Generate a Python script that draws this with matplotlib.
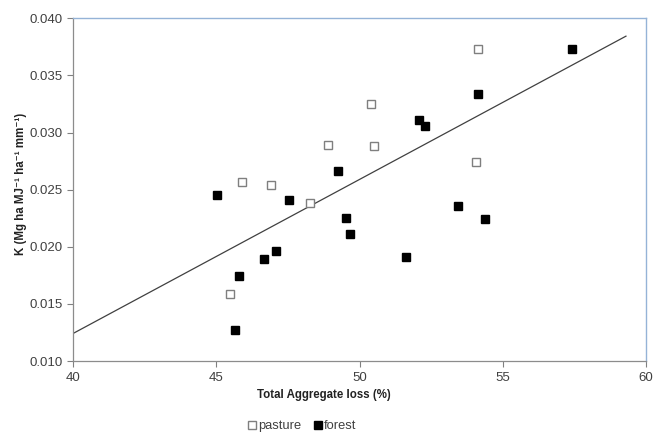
import numpy as np
import matplotlib
matplotlib.use("Agg")
import matplotlib.pyplot as plt

plt.rcParams['font.family'] = ['Liberation Sans', 'DejaVu Sans']

# pasture sites: total aggregate loss (%) vs K
pasture_x = [45.46, 45.88, 46.89, 48.27, 48.90, 50.38, 50.49, 54.05, 54.15]
pasture_k = [0.01583, 0.02567, 0.02540, 0.02380, 0.02891, 0.03250, 0.02882, 0.02744, 0.03729]

# forest sites
forest_x = [45.01, 45.63, 45.80, 46.67, 47.09, 47.53, 49.24, 49.53, 49.65,
            51.62, 52.06, 52.29, 53.44, 54.12, 54.37, 57.43]
forest_k = [0.02455, 0.01271, 0.01743, 0.01892, 0.01962, 0.02406, 0.02663, 0.02251, 0.02111,
            0.01907, 0.03107, 0.03060, 0.02356, 0.03337, 0.02245, 0.03729]

# linear trendline (as drawn in the source chart)
trend_intercept_at_40 = 0.01242
trend_slope = 0.001348
trend_range = [40.0, 59.3]

xticks = [40, 45, 50, 55, 60]
yticks = [0.010, 0.015, 0.020, 0.025, 0.030, 0.035, 0.040]

fig = plt.figure(figsize=(6.54, 4.34), dpi=100)
ax = fig.add_axes([73.3 / 654, 1 - 361 / 434, (646 - 73.3) / 654, (361 - 18.3) / 434])

tx = np.array(trend_range)
ax.plot(tx, trend_intercept_at_40 + trend_slope * (tx - 40), color='#404040', lw=0.9, zorder=2)

ax.plot(pasture_x, pasture_k, 's', ms=5.8, mfc='white', mec='#7f7f7f', mew=1.0,
        linestyle='none', label='pasture', zorder=3)
ax.plot(forest_x, forest_k, 's', ms=5.8, mfc='black', mec='black', mew=1.0,
        linestyle='none', label='forest', zorder=3)

ax.set_xlim(40, 60)
ax.set_ylim(0.010, 0.040)
ax.set_xticks(xticks)
ax.set_xticklabels([str(v) for v in xticks])
ax.set_yticks(yticks)
ax.set_yticklabels([f"{v:.3f}" for v in yticks])
ax.tick_params(axis='both', labelsize=9.5, colors='#808080', labelcolor='#404040',
               length=4, width=0.8)
ax.tick_params(axis='x', pad=4)

for side in ['left', 'bottom']:
    ax.spines[side].set_color('#8c8c8c')
    ax.spines[side].set_linewidth(0.9)
for side in ['top', 'right']:
    ax.spines[side].set_color('#95b3d7')
    ax.spines[side].set_linewidth(1.0)

fig.text(324 / 654, 1 - 395 / 434, 'Total Aggregate loss (%)', ha='center', va='center',
         fontsize=8.3, fontweight='bold', color='#222222')
fig.text(21 / 654, 1 - 184 / 434,
         'K (Mg ha MJ\u207b\u00b9 ha\u207b\u00b9 mm\u207b\u00b9)',
         ha='center', va='center', rotation=90, fontsize=8.3, fontweight='bold', color='#222222')

leg = fig.legend(loc='center', bbox_to_anchor=(302 / 654, 1 - 426 / 434), ncol=2,
                 frameon=False, fontsize=9.3, handlelength=0.7, handletextpad=0.15,
                 columnspacing=0.9, borderaxespad=0)
for t in leg.get_texts():
    t.set_color('#404040')

fig.savefig('out.png', dpi=100)
